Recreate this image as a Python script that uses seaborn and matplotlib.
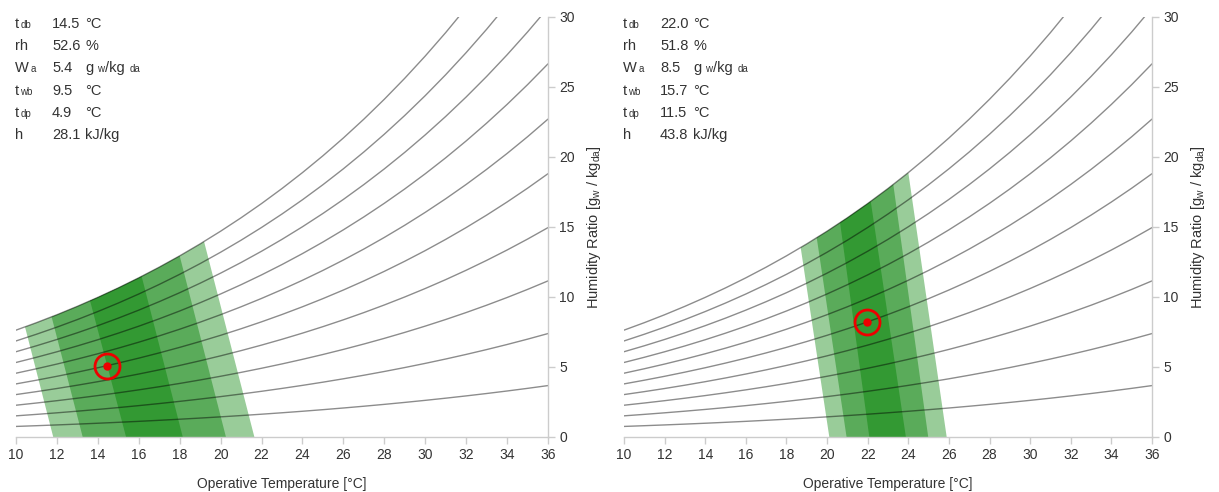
import numpy as np
import pandas as pd
import matplotlib
matplotlib.use('Agg')
import matplotlib.pyplot as plt
import seaborn as sns

# saturation vapour pressure table [kPa], 10..36 °C
temps = np.arange(10, 37, 1)
p_sat = [1.2282, 1.3130, 1.4028, 1.4981, 1.5990, 1.7058, 1.8188, 1.9384, 2.0647,
         2.1983, 2.3393, 2.4882, 2.6453, 2.8111, 2.9858, 3.1699, 3.3639, 3.5681,
         3.7831, 4.0092, 4.2470, 4.4969, 4.7596, 5.0354, 5.3251, 5.6290, 5.9479]
rh_levels = [10, 20, 30, 40, 50, 60, 70, 80, 90, 100]
p_atm = 101.325

# comfort bands, outer -> inner:
# (left temp at W=0, left temp at saturation, right temp at W=0, right temp at saturation)
bands_1 = [(11.82, 10.44, 21.65, 19.19), (13.26, 11.74, 20.26, 18.0), (15.38, 13.62, 18.15, 16.14)]
bands_2 = [(20.11, 18.70, 25.89, 24.0), (20.96, 19.49, 24.98, 23.26), (22.08, 20.64, 23.88, 22.15)]
band_colors = ['#99cc99', '#5aab5a', '#339933']

point_1 = (14.45, 5.1)
point_2 = (21.97, 8.2)

info_labels = ['t', 'rh', 'W', 't', 't', 'h']
info_subs = ['db', '', 'a', 'wb', 'dp', '']
info_values_1 = ['14.5', '52.6', '5.4', '9.5', '4.9', '28.1']
info_values_2 = ['22.0', '51.8', '8.5', '15.7', '11.5', '43.8']
info_units = ['°C', '%', None, '°C', '°C', 'kJ/kg']

sns.set_theme(style='white')
plt.rcParams['font.family'] = ['Liberation Sans', 'DejaVu Sans']
plt.rcParams['mathtext.fontset'] = 'custom'
plt.rcParams['mathtext.rm'] = 'Liberation Sans'

p_sat = np.array(p_sat)
rows = []
for rh in rh_levels:
    pv = rh / 100 * p_sat
    w = 622 * pv / (p_atm - pv)
    for t, wv in zip(temps, w):
        rows.append({'temp': t, 'W': wv, 'rh': rh})
curves = pd.DataFrame(rows)
w_sat = curves[curves['rh'] == 100]['W'].values

W, H = 1219, 492
fig = plt.figure(figsize=(W / 100, H / 100), dpi=100)
TXT = '#333333'


def px(x, y):
    return x / W, 1 - y / H


def draw_panel(left, width, bands, point, values):
    ax = fig.add_axes([left / W, (H - 437) / H, width / W, 420 / H])
    for (tb_l, tt_l, tb_r, tt_r), col in zip(bands, band_colors):
        mask = (temps > tt_l) & (temps < tt_r)
        xs = [tb_l, tt_l] + list(temps[mask]) + [tt_r, tb_r]
        ys = [0, np.interp(tt_l, temps, w_sat)] + list(w_sat[mask]) + [np.interp(tt_r, temps, w_sat), 0]
        ax.fill(xs, ys, color=col, lw=0, zorder=1)
    sns.lineplot(data=curves, x='temp', y='W', hue='rh', palette=['black'] * len(rh_levels),
                 estimator=None, legend=False, lw=1, alpha=0.45, ax=ax, zorder=2)
    ax.plot(*point, 'o', ms=18, mfc='none', mec='#ee0000', mew=2, zorder=3)
    ax.plot(*point, 'o', ms=5, color='#ee0000', zorder=3)

    ax.set_xlim(10, 36)
    ax.set_ylim(0, 30)
    ax.set_xticks(range(10, 37, 2))
    ax.set_yticks(range(0, 31, 5))
    ax.yaxis.tick_right()
    ax.yaxis.set_label_position('right')
    for s in ['left', 'top']:
        ax.spines[s].set_visible(False)
    for s in ['bottom', 'right']:
        ax.spines[s].set_color('#cccccc')
        ax.spines[s].set_linewidth(1)
    ax.tick_params(axis='both', direction='out', length=5, width=1, color='#cccccc',
                   labelsize=10, labelcolor=TXT, pad=3)
    ax.tick_params(axis='x', bottom=True)
    ax.tick_params(axis='y', right=True, left=False)
    ax.set_xlabel('Operative Temperature [°C]', fontsize=10, color=TXT)
    ax.set_ylabel(r'Humidity Ratio [g$_\mathregular{w}$ / kg$_\mathregular{da}$]', fontsize=10.5,
                  color=TXT)
    ax.xaxis.set_label_coords(0.5, -0.112)
    ax.xaxis.label.set_va('center')
    ax.yaxis.set_label_coords((width + 46) / width, 0.5)
    ax.yaxis.label.set_va('center')

    # info block
    off = left - 16
    fs, fs_sub = 10.5, 7
    for i in range(6):
        yb = 28 + 22.2 * i
        fig.text(*px(off + 15, yb), info_labels[i], fontsize=fs, color=TXT, va='baseline')
        if info_subs[i]:
            xs_ = off + (30.5 if info_labels[i] == 'W' else 20.5)
            fig.text(*px(xs_, yb), info_subs[i], fontsize=fs_sub, color=TXT, va='baseline')
        fig.text(*px(off + 52, yb), values[i], fontsize=fs, color=TXT, va='baseline')
        if info_units[i] is None:
            fig.text(*px(off + 85, yb), 'g', fontsize=fs, color=TXT, va='baseline')
            fig.text(*px(off + 97.5, yb), 'w', fontsize=fs_sub, color=TXT, va='baseline')
            fig.text(*px(off + 105, yb), '/kg', fontsize=fs, color=TXT, va='baseline')
            fig.text(*px(off + 130, yb), 'da', fontsize=fs_sub, color=TXT, va='baseline')
        else:
            fig.text(*px(off + 85, yb), info_units[i], fontsize=fs, color=TXT, va='baseline')
    return ax


draw_panel(16, 532, bands_1, point_1, info_values_1)
draw_panel(624, 528, bands_2, point_2, info_values_2)

fig.savefig('out.png', dpi=100)
